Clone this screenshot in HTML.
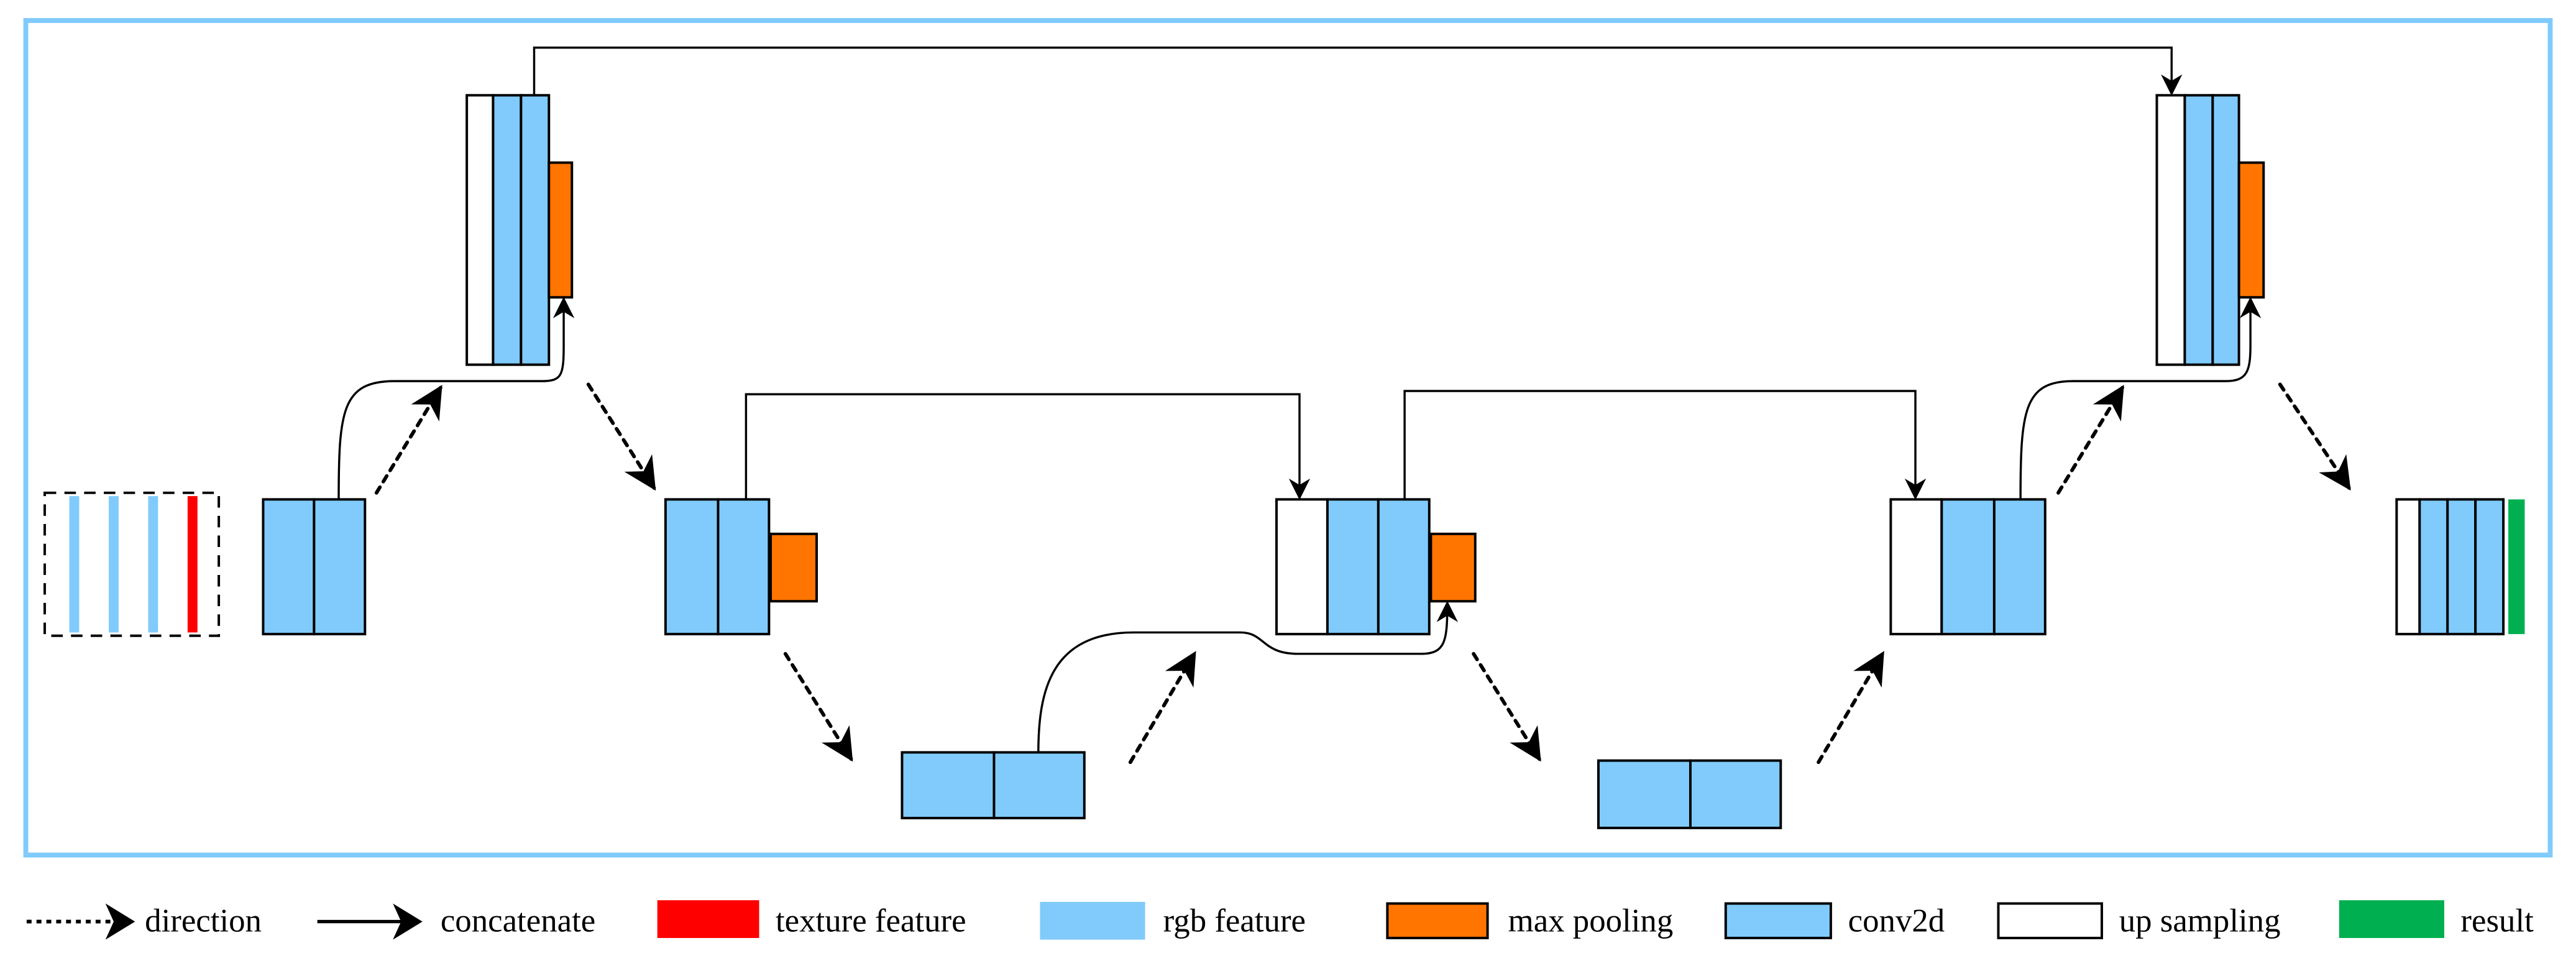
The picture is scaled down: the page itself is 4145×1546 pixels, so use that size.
<!DOCTYPE html>
<html><head><style>html,body{margin:0;padding:0;background:#fff;}svg{display:block;}</style></head>
<body>
<svg width="4145" height="1546" viewBox="0 0 1568 585" xmlns="http://www.w3.org/2000/svg">
<defs>
<marker id="ah" viewBox="0 0 10 10" refX="9" refY="5" markerWidth="13" markerHeight="13" markerUnits="userSpaceOnUse" orient="auto"><path d="M0,0 L10,5 L0,10 L3,5 z" fill="#000"/></marker>
<marker id="ah2" viewBox="0 0 10 10" refX="9" refY="5" markerWidth="20" markerHeight="20" markerUnits="userSpaceOnUse" orient="auto"><path d="M0,0 L10,5 L0,10 L3,5 z" fill="#000"/></marker>
</defs>
<rect x="15.5" y="12.5" width="1537" height="508" fill="none" stroke="#80cbfb" stroke-width="3"/>
<g stroke="#000" stroke-width="1.5">
<rect x="27" y="300" width="106" height="87" fill="none" stroke-dasharray="7,5"/>
<g stroke="none"><rect x="42" y="302" width="6" height="83" fill="#80cbfb"/><rect x="66" y="302" width="6" height="83" fill="#80cbfb"/><rect x="90" y="302" width="6" height="83" fill="#80cbfb"/><rect x="114" y="302" width="6" height="83" fill="#ff0000"/></g>
<rect x="160" y="304" width="31" height="82" fill="#80cbfb"/><rect x="191" y="304" width="31" height="82" fill="#80cbfb"/>
<rect x="284" y="58" width="16" height="164" fill="#fff"/><rect x="300" y="58" width="17" height="164" fill="#80cbfb"/><rect x="317" y="58" width="17" height="164" fill="#80cbfb"/><rect x="334" y="99" width="14" height="82" fill="#ff7500"/>
<rect x="405" y="304" width="32" height="82" fill="#80cbfb"/><rect x="437" y="304" width="31" height="82" fill="#80cbfb"/><rect x="469" y="325" width="28" height="41" fill="#ff7500"/>
<rect x="549" y="458" width="56" height="40" fill="#80cbfb"/><rect x="605" y="458" width="55" height="40" fill="#80cbfb"/>
<rect x="777" y="304" width="31" height="82" fill="#fff"/><rect x="808" y="304" width="31" height="82" fill="#80cbfb"/><rect x="839" y="304" width="31" height="82" fill="#80cbfb"/><rect x="871" y="325" width="27" height="41" fill="#ff7500"/>
<rect x="973" y="463" width="56" height="41" fill="#80cbfb"/><rect x="1029" y="463" width="55" height="41" fill="#80cbfb"/>
<rect x="1151" y="304" width="31" height="82" fill="#fff"/><rect x="1182" y="304" width="32" height="82" fill="#80cbfb"/><rect x="1214" y="304" width="31" height="82" fill="#80cbfb"/>
<rect x="1313" y="58" width="17" height="164" fill="#fff"/><rect x="1330" y="58" width="17" height="164" fill="#80cbfb"/><rect x="1347" y="58" width="16" height="164" fill="#80cbfb"/><rect x="1363" y="99" width="15" height="82" fill="#ff7500"/>
<rect x="1459" y="304" width="14" height="82" fill="#fff"/><rect x="1473" y="304" width="17" height="82" fill="#80cbfb"/><rect x="1490" y="304" width="17" height="82" fill="#80cbfb"/><rect x="1507" y="304" width="17" height="82" fill="#80cbfb"/>
<rect x="1527" y="304" width="10" height="82" fill="#00b050" stroke="none"/>
</g>
<g stroke="#000" stroke-width="1.3" fill="none">
<path d="M325,58 V29 H1322 V57" marker-end="url(#ah)"/>
<path d="M454,304 V240 H791 V303" marker-end="url(#ah)"/>
<path d="M855,304 V238 H1166 V303" marker-end="url(#ah)"/>
<path d="M206,304 C206,250 208,232 240,232 H330 C342,232 343,228 343,210 V182" marker-end="url(#ah)"/>
<path d="M632,458 C632,420 640,385 690,385 H755 C770,385 768,398 790,398 H865 C880,398 881,390 881,367" marker-end="url(#ah)"/>
<path d="M1230,304 C1230,250 1232,232 1262,232 H1355 C1368,232 1370,226 1370,210 V182" marker-end="url(#ah)"/>
</g>
<g stroke="#000" stroke-width="2.2" fill="none" stroke-dasharray="4,4" stroke-linecap="round">
<path d="M229,300 L268,236" marker-end="url(#ah2)"/>
<path d="M358,234 L398,297" marker-end="url(#ah2)"/>
<path d="M478,398 L518,462" marker-end="url(#ah2)"/>
<path d="M688,464 L727,398" marker-end="url(#ah2)"/>
<path d="M897,398 L937,462" marker-end="url(#ah2)"/>
<path d="M1107,464 L1146,398" marker-end="url(#ah2)"/>
<path d="M1253,300 L1292,236" marker-end="url(#ah2)"/>
<path d="M1388,234 L1430,297" marker-end="url(#ah2)"/>
</g>
<g font-family="'Liberation Serif', serif" font-size="20" fill="#000">
<path d="M16,561 H70" stroke="#000" stroke-width="2.2" stroke-dasharray="3,3" fill="none"/>
<path d="M64,550 L82,561 L64,572 L69,561 z" fill="#000"/>
<text x="88" y="567">direction</text>
<path d="M193,561 H247" stroke="#000" stroke-width="2" fill="none"/>
<path d="M239,550 L257,561 L239,572 L244,561 z" fill="#000"/>
<text x="268" y="567">concatenate</text>
<rect x="400" y="548" width="62" height="23" fill="#ff0000"/>
<text x="472" y="567">texture feature</text>
<rect x="633" y="549" width="64" height="23" fill="#80cbfb"/>
<text x="708" y="567">rgb feature</text>
<rect x="844.5" y="550" width="61" height="21" fill="#ff7500" stroke="#000" stroke-width="1.5"/>
<text x="918" y="567">max pooling</text>
<rect x="1050.5" y="550" width="64" height="21" fill="#80cbfb" stroke="#000" stroke-width="1.5"/>
<text x="1125" y="567">conv2d</text>
<rect x="1216.5" y="550" width="63" height="21" fill="#fff" stroke="#000" stroke-width="1.5"/>
<text x="1290" y="567">up sampling</text>
<rect x="1424" y="548" width="64" height="23" fill="#00b050"/>
<text x="1498" y="567">result</text>
</g>
</svg>
</body></html>
